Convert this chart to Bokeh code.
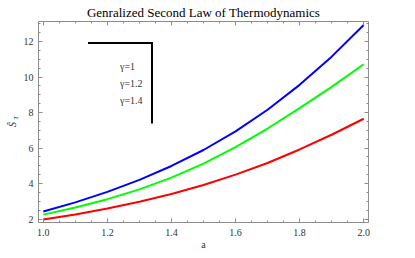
from bokeh.plotting import figure
from bokeh.models import (Range1d, SingleIntervalTicker, FixedTicker, PrintfTickFormatter, LinearAxis,
                          Legend, LegendItem, Arrow, ColumnDataSource, CustomJSTickFormatter)
from bokeh.embed import file_html
from bokeh.resources import INLINE

# ---- data ----
a_vals = [1.0, 1.1, 1.2, 1.3, 1.4, 1.5, 1.6, 1.7, 1.8, 1.9, 2.0]
s_gamma_1 = [1.97, 2.26, 2.59, 2.97, 3.41, 3.92, 4.50, 5.16, 5.92, 6.75, 7.65]
s_gamma_12 = [2.25, 2.65, 3.12, 3.67, 4.33, 5.12, 6.05, 7.10, 8.25, 9.45, 10.72]
s_gamma_14 = [2.42, 2.94, 3.53, 4.21, 4.99, 5.89, 6.94, 8.16, 9.56, 11.15, 12.93]
legend_labels = ["γ=1", "γ=1.2", "γ=1.4"]
title_text = "Genralized Second Law of Thermodynamics"
x_label = "a"
y_label_main = "Ŝ"
y_label_sub = "T"

SERIF = "Liberation Serif"
FRAME = "#8c8c8c"
TXT = "#333333"

p = figure(width=415, height=258, output_backend="svg", toolbar_location=None,
           x_range=Range1d(0.985, 2.015), y_range=Range1d(1.805, 13.13),
           min_border_left=38, min_border_right=47, min_border_top=19, min_border_bottom=36,
           x_axis_type=None, y_axis_type=None)
p.outline_line_color = None
p.background_fill_color = "white"
p.border_fill_color = "white"

p.title.text = title_text
p.title.align = "center"
p.title.text_font = SERIF
p.title.text_font_style = "normal"
p.title.text_font_size = "13px"
p.title.text_color = "black"
p.title.standoff = 4

def style_axis(ax, labels=True):
    ax.axis_line_color = FRAME
    ax.axis_line_width = 1
    ax.major_tick_in = 4
    ax.major_tick_out = 0
    ax.minor_tick_in = 2
    ax.minor_tick_out = 0
    ax.major_tick_line_color = FRAME
    ax.minor_tick_line_color = FRAME
    ax.major_label_text_font = SERIF
    ax.major_label_text_color = TXT
    ax.major_label_text_font_size = "10px"
    if not labels:
        ax.formatter = CustomJSTickFormatter(code="return ''")
        ax.major_label_text_font_size = "1px"
        ax.major_label_standoff = 0

xt = lambda: SingleIntervalTicker(interval=0.2, num_minor_ticks=4)
yt = lambda: SingleIntervalTicker(interval=2, num_minor_ticks=4)

xb = LinearAxis(ticker=xt(), formatter=PrintfTickFormatter(format="%.1f"))
style_axis(xb)
xb.major_label_standoff = 6
xb.axis_label = x_label
xb.axis_label_text_font = SERIF
xb.axis_label_text_font_style = "normal"
xb.axis_label_text_font_size = "10px"
xb.axis_label_text_color = TXT
xb.axis_label_standoff = 0
p.add_layout(xb, "below")

xa = LinearAxis(ticker=xt())
style_axis(xa, labels=False)
p.add_layout(xa, "above")

# left axis: tick labels + subscript "T" (closest to the frame)
yl = LinearAxis(ticker=yt(), formatter=PrintfTickFormatter(format="%d"))
style_axis(yl)
yl.major_label_standoff = 5
yl.axis_label = "\u2003\u2009" + y_label_sub
yl.axis_label_text_font = SERIF
yl.axis_label_text_font_style = "italic"
yl.axis_label_text_font_size = "7px"
yl.axis_label_text_color = TXT
yl.axis_label_standoff = 1
p.add_layout(yl, "left")

# outer left "axis" carrying only the main symbol S-hat
ys = LinearAxis(ticker=FixedTicker(ticks=[]), axis_line_color=None,
                major_tick_line_color=None, minor_tick_line_color=None)
ys.axis_label = y_label_main + "\u2002"
ys.axis_label_text_font = SERIF
ys.axis_label_text_font_style = "italic"
ys.axis_label_text_font_size = "10px"
ys.axis_label_text_color = TXT
ys.axis_label_standoff = -9
ys.major_label_standoff = 0
p.add_layout(ys, "left")

yr = LinearAxis(ticker=yt())
style_axis(yr, labels=False)
p.add_layout(yr, "right")

src = ColumnDataSource(dict(a=a_vals, g1=s_gamma_1, g12=s_gamma_12, g14=s_gamma_14))
p.line("a", "g1", source=src, line_color="#ff0000", line_width=2)
p.line("a", "g12", source=src, line_color="#00ff00", line_width=2)
p.line("a", "g14", source=src, line_color="#0000ff", line_width=2)

# legend entries (pale swatches as in the reference)
pale = ["#f5a3a3", "#a3f5a3", "#a8a8f5"]
dummies = [p.line(x=[], y=[], line_color=c, line_width=1) for c in pale]
legend = Legend(items=[LegendItem(label=l, renderers=[r]) for l, r in zip(legend_labels, dummies)],
                location=(63, 115.3), margin=0, padding=0, spacing=5,
                glyph_width=9, glyph_height=12, label_height=12, label_width=20,
                label_standoff=10, border_line_color=None, background_fill_alpha=0,
                label_text_font=SERIF, label_text_font_size="10px", label_text_color=TXT)
p.add_layout(legend, "center")

# legend frame shadow (top and right edges)
p.add_layout(Arrow(end=None, x_start=49.5, y_start=179.5, x_end=114.5, y_end=179.5,
                   start_units="screen", end_units="screen", line_color="black", line_width=2))
p.add_layout(Arrow(end=None, x_start=113.5, y_start=180.5, x_end=113.5, y_end=99,
                   start_units="screen", end_units="screen", line_color="black", line_width=2))

open("out.html", "w").write(file_html(p, INLINE))
